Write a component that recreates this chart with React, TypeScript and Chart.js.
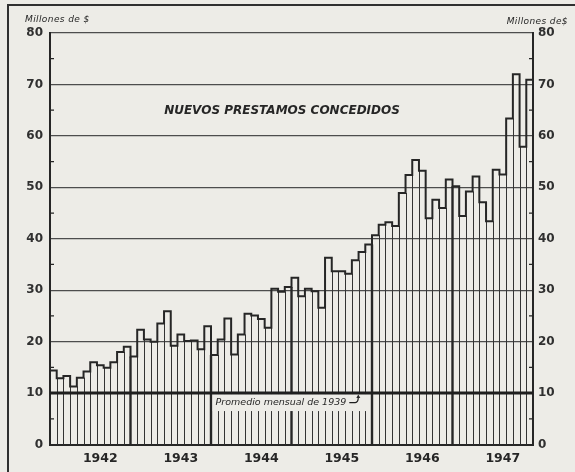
import { useEffect, useRef } from 'react';
import { Chart, registerables } from 'chart.js';

Chart.register(...registerables);

// ---- data ----
const YEARS = ['1942', '1943', '1944', '1945', '1946', '1947'];
const MONTHS = ['Ene', 'Feb', 'Mar', 'Abr', 'May', 'Jun', 'Jul', 'Ago', 'Sep', 'Oct', 'Nov', 'Dic'];

const LOANS_1942 = [14.4, 12.9, 13.3, 11.3, 13.0, 14.2, 16.0, 15.4, 14.9, 16.0, 18.0, 19.0];
const LOANS_1943 = [17.1, 22.3, 20.4, 20.0, 23.5, 25.9, 19.2, 21.4, 20.1, 20.2, 18.5, 23.0];
const LOANS_1944 = [17.4, 20.4, 24.5, 17.5, 21.4, 25.4, 25.1, 24.4, 22.7, 30.3, 29.7, 30.6];
const LOANS_1945 = [32.4, 28.8, 30.3, 29.8, 26.6, 36.3, 33.7, 33.7, 33.2, 35.8, 37.4, 38.9];
const LOANS_1946 = [40.7, 42.7, 43.2, 42.5, 48.9, 52.4, 55.3, 53.2, 44.0, 47.6, 46.0, 51.5];
const LOANS_1947 = [50.2, 44.4, 49.2, 52.1, 47.1, 43.4, 53.4, 52.5, 63.4, 72.0, 57.9, 70.9];

const AVERAGE_1939 = 10;
const Y_MIN = 0;
const Y_MAX = 80;
const Y_STEP = 10;
const MINOR_TICKS = [5, 15, 25, 35, 45, 55, 65, 75];

const TITLE = 'NUEVOS PRESTAMOS CONCEDIDOS';
const UNIT_LEFT = 'Millones de $';
const UNIT_RIGHT = 'Millones de$';
const AVERAGE_LABEL = 'Promedio mensual de 1939';

// ---- styles ----
const PAPER = '#edece7';
const INK = '#262626';
const GRID = '#4d4d4d';

const LABELS = YEARS.flatMap((y) => MONTHS.map((m) => `${m} ${y}`));
const VALUES = [...LOANS_1942, ...LOANS_1943, ...LOANS_1944, ...LOANS_1945, ...LOANS_1946, ...LOANS_1947];

const paperPlugin = {
  id: 'paper',
  beforeDraw(chart: any) {
    const ctx = chart.ctx;
    ctx.save();
    ctx.fillStyle = PAPER;
    ctx.fillRect(0, 0, chart.width, chart.height);
    ctx.restore();
  },
};

const decorPlugin = {
  id: 'decor',
  afterDatasetsDraw(chart: any) {
    const ctx = chart.ctx;
    const area = chart.chartArea;
    const yS = chart.scales.y;
    const bars = chart.getDatasetMeta(0).data as any[];
    const base = yS.getPixelForValue(0);
    const edges = bars.map((b) => {
      const p = b.getProps(['x', 'y', 'width'], true);
      return { l: p.x - p.width / 2, r: p.x + p.width / 2, y: p.y };
    });

    ctx.save();
    ctx.lineCap = 'butt';
    // separators between bars
    for (let i = 1; i < edges.length; i++) {
      const yearEdge = i % 12 === 0;
      const x = yearEdge ? edges[i].l : Math.round(edges[i].l) + 0.5;
      const lowTop = Math.max(edges[i - 1].y, edges[i].y);
      ctx.strokeStyle = yearEdge ? INK : '#333333';
      ctx.lineWidth = yearEdge ? 2.4 : 1;
      ctx.beginPath();
      ctx.moveTo(x, base);
      ctx.lineTo(x, lowTop);
      ctx.stroke();
    }
    // step outline
    ctx.strokeStyle = INK;
    ctx.lineWidth = 2;
    ctx.lineJoin = 'miter';
    ctx.beginPath();
    ctx.moveTo(edges[0].l, edges[0].y);
    ctx.lineTo(edges[0].r, edges[0].y);
    for (let i = 1; i < edges.length; i++) {
      ctx.lineTo(edges[i].l, edges[i].y);
      ctx.lineTo(edges[i].r, edges[i].y);
    }
    ctx.stroke();

    // blank band for the average label
    const y10 = yS.getPixelForValue(AVERAGE_1939);
    const boxL = edges[24].l + 1.6;
    const boxR = edges[47].l + 2;
    ctx.fillStyle = PAPER;
    ctx.fillRect(boxL, y10 + 1, boxR - boxL, 17);

    // 1939 average line
    ctx.strokeStyle = '#1e1e1e';
    ctx.lineWidth = 3;
    ctx.beginPath();
    ctx.moveTo(area.left, y10);
    ctx.lineTo(area.right, y10);
    ctx.stroke();

    // average label + arrow
    ctx.fillStyle = INK;
    ctx.font = 'italic 9.5px "DejaVu Sans"';
    ctx.textBaseline = 'middle';
    ctx.textAlign = 'left';
    const tx = boxL + 3;
    const ty = y10 + 9.5;
    ctx.fillText(AVERAGE_LABEL, tx, ty);
    const tw = ctx.measureText(AVERAGE_LABEL).width;
    const ax = tx + tw + 3;
    ctx.lineWidth = 1.2;
    ctx.beginPath();
    ctx.moveTo(ax, ty);
    ctx.lineTo(ax + 6, ty);
    ctx.quadraticCurveTo(ax + 9, ty, ax + 9, y10 + 4);
    ctx.stroke();
    ctx.beginPath();
    ctx.moveTo(ax + 9, y10 + 1.5);
    ctx.lineTo(ax + 7, y10 + 5);
    ctx.lineTo(ax + 11, y10 + 5);
    ctx.closePath();
    ctx.fill();

    // minor ticks on both axes
    ctx.strokeStyle = INK;
    ctx.lineWidth = 1.2;
    MINOR_TICKS.forEach((v) => {
      const y = yS.getPixelForValue(v);
      ctx.beginPath();
      ctx.moveTo(area.left, y);
      ctx.lineTo(area.left + 4, y);
      ctx.moveTo(area.right - 4, y);
      ctx.lineTo(area.right, y);
      ctx.stroke();
    });

    // title inside the plot
    ctx.fillStyle = INK;
    ctx.font = 'bold italic 12px "DejaVu Sans"';
    ctx.textAlign = 'center';
    ctx.textBaseline = 'middle';
    ctx.fillText(TITLE, area.left + 232, area.top + 78);

    // unit labels
    ctx.font = 'italic 9px "DejaVu Sans"';
    (ctx as any).letterSpacing = '0.4px';
    ctx.textAlign = 'left';
    ctx.fillText(UNIT_LEFT, area.left - 25, area.top - 13);
    ctx.textAlign = 'right';
    ctx.fillText(UNIT_RIGHT, area.right + 35, area.top - 11);
    (ctx as any).letterSpacing = '0px';

    // frame of the scanned page
    ctx.strokeStyle = '#303030';
    ctx.lineWidth = 2;
    ctx.beginPath();
    ctx.moveTo(8, chart.height);
    ctx.lineTo(8, 5);
    ctx.lineTo(chart.width, 5);
    ctx.stroke();
    ctx.restore();
  },
};

export default function App() {
  const ref = useRef<HTMLCanvasElement>(null);

  useEffect(() => {
    const canvas = ref.current;
    if (!canvas) return;
    const chart = new Chart(canvas, {
      type: 'bar',
      data: {
        labels: LABELS,
        datasets: [
          {
            label: 'Nuevos préstamos concedidos',
            data: VALUES,
            backgroundColor: 'rgba(0,0,0,0)',
            borderWidth: 0,
            categoryPercentage: 1,
            barPercentage: 1,
          },
        ],
      },
      options: {
        animation: false,
        responsive: false,
        devicePixelRatio: 1,
        layout: { padding: { top: 33, left: 0, right: 0, bottom: 0 } },
        plugins: {
          legend: { display: false },
          tooltip: { enabled: false },
          title: { display: false },
        },
        scales: {
          x: {
            type: 'category',
            offset: true,
            grid: { display: false, drawTicks: false },
            border: { display: true, color: INK, width: 2 },
            ticks: {
              autoSkip: false,
              maxRotation: 0,
              minRotation: 0,
              padding: 7,
              color: INK,
              font: { family: 'DejaVu Sans', size: 12.5, weight: 'bold' },
              callback: (_v: any, index: number) => (index % 12 === 7 ? YEARS[Math.floor(index / 12)] : ''),
            },
            afterFit: (s: any) => {
              s.height = 27.5;
            },
          },
          y: {
            type: 'linear',
            position: 'left',
            min: Y_MIN,
            max: Y_MAX,
            grid: { color: GRID, lineWidth: 1.3, drawTicks: false },
            border: { display: true, color: INK, width: 2 },
            ticks: {
              stepSize: Y_STEP,
              padding: 7,
              color: '#303030',
              font: { family: 'DejaVu Sans', size: 12, weight: 'bold' },
            },
            afterFit: (s: any) => {
              s.width = 50;
            },
          },
          y1: {
            type: 'linear',
            position: 'right',
            min: Y_MIN,
            max: Y_MAX,
            grid: { display: false, drawTicks: false },
            border: { display: true, color: INK, width: 2 },
            ticks: {
              stepSize: Y_STEP,
              padding: 5,
              color: '#303030',
              font: { family: 'DejaVu Sans', size: 12, weight: 'bold' },
            },
            afterFit: (s: any) => {
              s.width = 42;
            },
          },
        },
      },
      plugins: [paperPlugin, decorPlugin],
    } as any);
    return () => chart.destroy();
  }, []);

  return (
    <div style={{ position: 'fixed', left: 0, top: 0, width: 575, height: 472, background: PAPER }}>
      <canvas ref={ref} width={575} height={472} style={{ display: 'block' }} />
    </div>
  );
}
